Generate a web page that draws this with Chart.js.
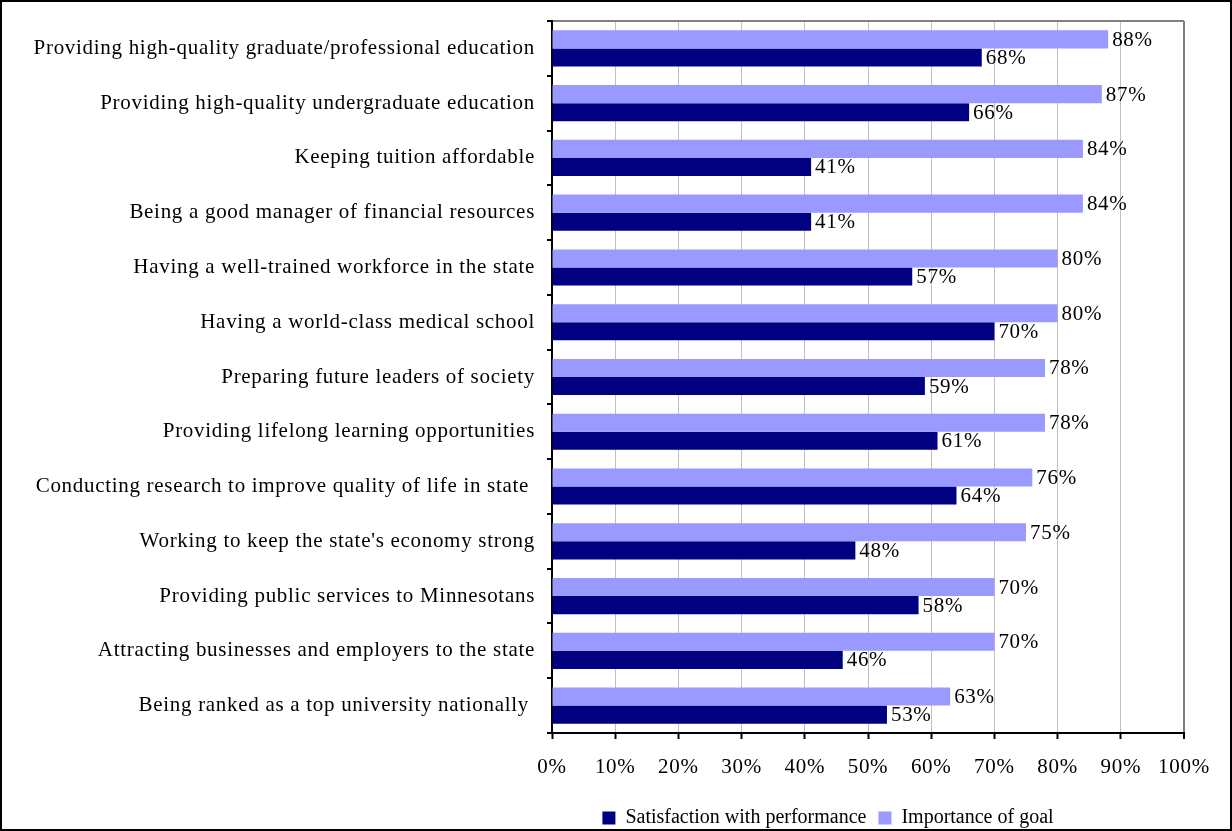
<!DOCTYPE html>
<html>
<head>
<meta charset="utf-8">
<script src="https://cdn.jsdelivr.net/npm/chart.js@4/dist/chart.umd.min.js"></script>
<style>
  html, body { margin: 0; padding: 0; background: #fff; overflow: hidden; }
  #wrap { width: 1232px; height: 831px; position: relative; }
</style>
</head>
<body>
<div id="wrap"><canvas id="chart"></canvas></div>
<script>
// goals, top to bottom
const goals = [
  'Providing high-quality graduate/professional education',
  'Providing high-quality undergraduate education',
  'Keeping tuition affordable',
  'Being a good manager of financial resources',
  'Having a well-trained workforce in the state',
  'Having a world-class medical school',
  'Preparing future leaders of society',
  'Providing lifelong learning opportunities',
  'Conducting research to improve quality of life in state ',
  "Working to keep the state's economy strong",
  'Providing public services to Minnesotans',
  'Attracting businesses and employers to the state',
  'Being ranked as a top university nationally '
];
const importance = [88, 87, 84, 84, 80, 80, 78, 78, 76, 75, 70, 70, 63];
const satisfaction = [68, 66, 41, 41, 57, 70, 59, 61, 64, 48, 58, 46, 53];
const xTicks = [0, 10, 20, 30, 40, 50, 60, 70, 80, 90, 100];

const FONT = 'Liberation Serif, Times New Roman, serif';
const font = { family: FONT, size: 21 };
const SPACING = '0.7px';

// axis text in the original is slightly wider than Liberation Serif;
// the legend is not, so it gets no extra spacing
const spacing = {
  id: 'spacing',
  beforeUpdate(chart) { chart.ctx.letterSpacing = SPACING; },
  beforeLayout(chart) {
    chart.ctx.letterSpacing = SPACING;
    const lg = chart.legend;
    if (lg && !lg._noSpacing) {
      lg._noSpacing = true;
      ['fit', 'draw'].forEach(k => {
        const f = lg[k];
        lg[k] = function (...args) {
          const c = this.ctx;
          const old = c.letterSpacing;
          c.letterSpacing = '0px';
          const r = f.apply(this, args);
          c.letterSpacing = old;
          return r;
        };
      });
    }
  },
  beforeDraw(chart) { chart.ctx.letterSpacing = SPACING; }
};

// value labels at the end of each bar
const valueLabels = {
  id: 'valueLabels',
  afterDatasetsDraw(chart) {
    const ctx = chart.ctx;
    ctx.save();
    ctx.font = '21px ' + FONT;
    ctx.fillStyle = '#000';
    ctx.textAlign = 'left';
    ctx.textBaseline = 'middle';
    chart.data.datasets.forEach((ds, i) => {
      chart.getDatasetMeta(i).data.forEach((bar, j) => {
        ctx.fillText(ds.data[j] + '%', bar.x + 4, bar.y + 1);
      });
    });
    ctx.restore();
  }
};

// outer frame + nudge legend
const frame = {
  id: 'frame',
  afterLayout(chart) {
    const lg = chart.legend;
    const w = lg.right - lg.left;
    lg.left = 828 - w / 2;
    lg.right = 828 + w / 2;
    lg.top += 7;
    lg.bottom += 7;
  },
  afterDraw(chart) {
    const ctx = chart.ctx;
    ctx.save();
    ctx.strokeStyle = '#000';
    ctx.lineWidth = 2;
    ctx.strokeRect(1, 1, chart.width - 2, chart.height - 2);
    ctx.restore();
  }
};

new Chart(document.getElementById('chart'), {
  type: 'bar',
  data: {
    labels: goals,
    datasets: [
      { label: 'Importance of goal', data: importance, backgroundColor: '#9999FF' },
      { label: 'Satisfaction with performance', data: satisfaction, backgroundColor: '#000080' }
    ]
  },
  options: {
    indexAxis: 'y',
    responsive: true,
    maintainAspectRatio: false,
    animation: false,
    layout: { padding: { top: 21, right: 48, left: 0, bottom: 0 } },
    datasets: { bar: { categoryPercentage: 0.66, barPercentage: 1.0, borderWidth: 0 } },
    scales: {
      x: {
        min: 0, max: 100,
        afterBuildTicks: s => { s.ticks = xTicks.map(v => ({ value: v })); },
        afterFit: s => { s.height = 56; },
        ticks: { callback: v => v + '%', color: '#000', font: font, padding: 16, maxRotation: 0 },
        grid: {
          color: c => c.tick && c.tick.value === 100 ? '#808080' : '#c0c0c0',
          lineWidth: c => c.tick && c.tick.value === 100 ? 2 : 1,
          tickColor: '#000', tickLength: 6, tickWidth: 2
        },
        border: { color: '#000', width: 2 }
      },
      y: {
        afterFit: s => { s.width = 552; s.paddingTop = 0; s.paddingBottom = 0; },
        ticks: { color: '#000', font: font, padding: 12, autoSkip: false },
        grid: {
          offset: true,
          color: c => c.index === 0 ? '#808080' : 'rgba(0,0,0,0)',
          lineWidth: 2,
          tickColor: '#000', tickLength: 5, tickWidth: 2
        },
        border: { color: '#000', width: 2 }
      }
    },
    plugins: {
      legend: {
        position: 'bottom',
        fullSize: false,
        reverse: true,
        labels: { color: '#000', font: { family: FONT, size: 20 }, boxWidth: 13, boxHeight: 13, padding: 12 }
      },
      tooltip: { enabled: false }
    }
  },
  plugins: [spacing, valueLabels, frame]
});
</script>
</body>
</html>
